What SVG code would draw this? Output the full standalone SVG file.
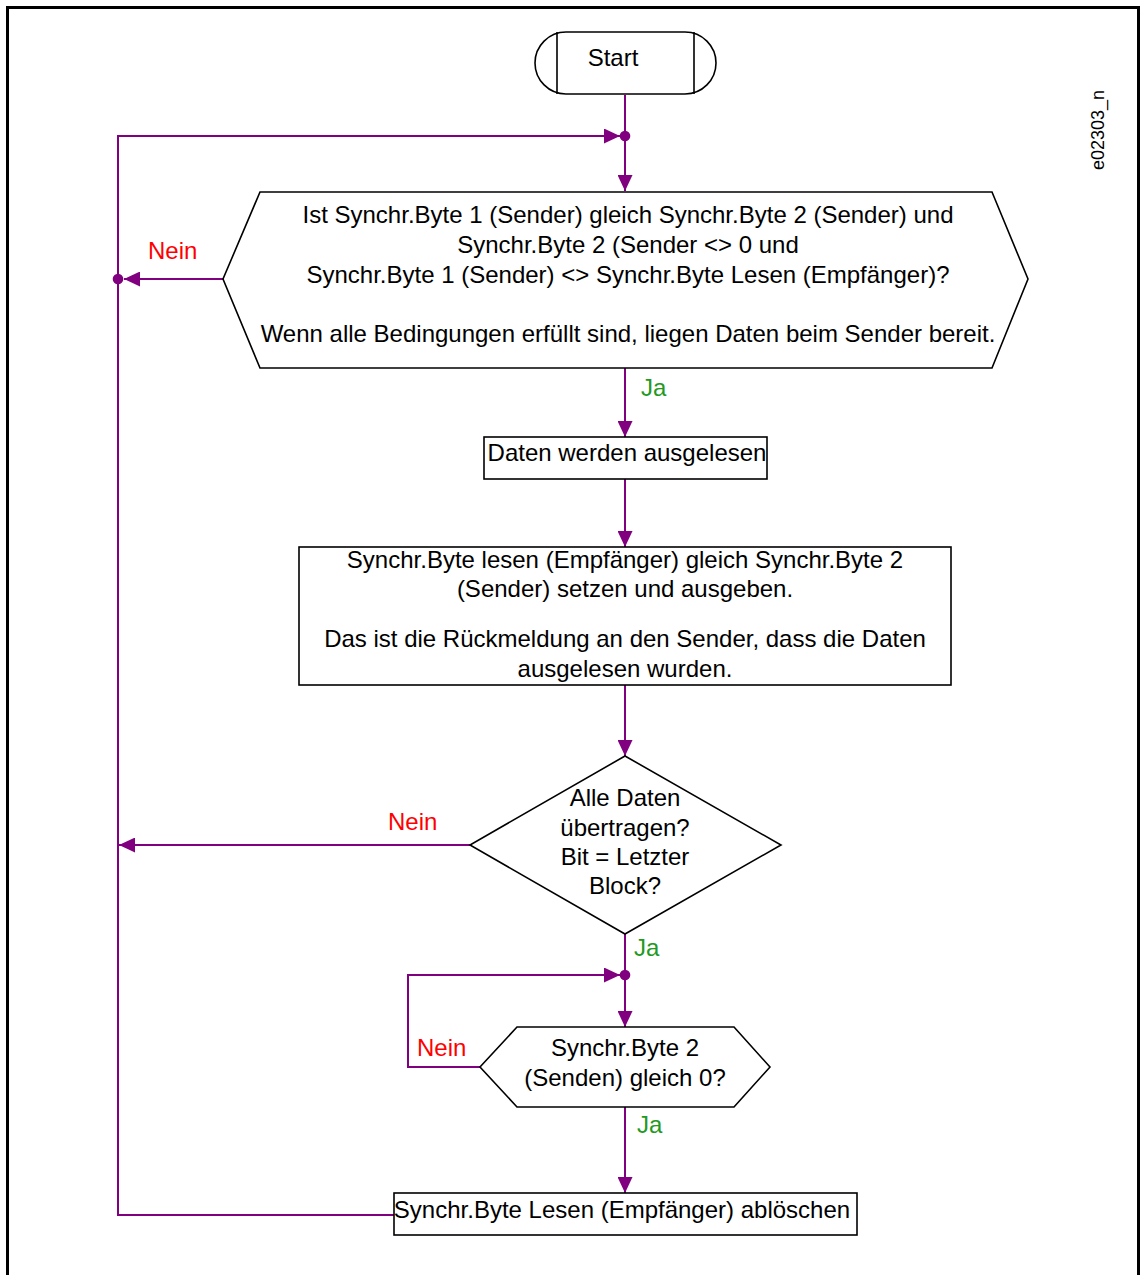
<svg xmlns="http://www.w3.org/2000/svg" width="1140" height="1275" viewBox="0 0 1140 1275">
  <style>
    .node { fill: #ffffff; stroke: #000000; stroke-width: 1.6; }
    .txt { font-family: "Liberation Sans", Arial, sans-serif; font-size: 24px; fill: #000000; text-anchor: middle; }
    .no { font-family: "Liberation Sans", Arial, sans-serif; font-size: 24px; fill: #ff0000; }
    .yes { font-family: "Liberation Sans", Arial, sans-serif; font-size: 24px; fill: #229922; }
    .flow { fill: none; stroke: #800080; stroke-width: 2; }
    .dot { fill: #800080; }
    .tag { font-family: "Liberation Sans", Arial, sans-serif; font-size: 18px; fill: #000000; text-anchor: middle; }
  </style>
  <defs>
    <marker id="arrow" markerUnits="userSpaceOnUse" markerWidth="16" markerHeight="15" refX="16" refY="7.5" orient="auto">
      <path d="M0,0 L16,7.5 L0,15 z" fill="#800080"/>
    </marker>
  </defs>

  <rect width="1140" height="1275" fill="#ffffff"/>
  <!-- frame -->
  <path d="M7.5,1275 V7.5 H1138.5 V1275" fill="none" stroke="#000000" stroke-width="3"/>
  <text class="tag" transform="translate(1104,130) rotate(-90)">e02303_n</text>

  <!-- connectors -->
  <g id="connectors">
    <path class="flow" d="M625,95 V191" marker-end="url(#arrow)"/>
    <path class="flow" d="M394,1215 H118 V136 H620"/>
    <path class="flow" d="M118,136 H620" marker-end="url(#arrow)"/>
    <circle class="dot" cx="625" cy="136" r="5.3"/>
    <path class="flow" d="M223,279 H124" marker-end="url(#arrow)"/>
    <circle class="dot" cx="118" cy="279" r="5.3"/>
    <path class="flow" d="M625,368 V437" marker-end="url(#arrow)"/>
    <path class="flow" d="M625,479 V547" marker-end="url(#arrow)"/>
    <path class="flow" d="M625,685 V756" marker-end="url(#arrow)"/>
    <path class="flow" d="M470,845 H119" marker-end="url(#arrow)"/>
    <path class="flow" d="M625,934 V1027" marker-end="url(#arrow)"/>
    <path class="flow" d="M480,1067 H408 V975 H620" marker-end="url(#arrow)"/>
    <circle class="dot" cx="625" cy="975" r="5.3"/>
    <path class="flow" d="M625,1107 V1193" marker-end="url(#arrow)"/>

    <text class="no" x="148" y="259">Nein</text>
    <text class="yes" x="641" y="396">Ja</text>
    <text class="no" x="388" y="830">Nein</text>
    <text class="yes" x="634" y="956">Ja</text>
    <text class="no" x="417" y="1056">Nein</text>
    <text class="yes" x="637" y="1133">Ja</text>
  </g>

  <!-- start terminator -->
  <g id="start">
    <path class="node" d="M566,32 H685 A31,31 0 0 1 685,94 H566 A31,31 0 0 1 566,32 z"/>
    <path d="M557,32 V94 M694,32 V94" stroke="#000000" stroke-width="1.6"/>
    <text class="txt" x="613" y="66">Start</text>
  </g>

  <!-- check: data ready at sender -->
  <g id="check-ready">
    <polygon class="node" points="260,192 992,192 1028,279 992,368 260,368 223,279"/>
    <text class="txt" x="628" y="223">Ist Synchr.Byte 1 (Sender) gleich Synchr.Byte 2 (Sender) und</text>
    <text class="txt" x="628" y="253">Synchr.Byte 2 (Sender &lt;&gt; 0 und</text>
    <text class="txt" x="628" y="283">Synchr.Byte 1 (Sender) &lt;&gt; Synchr.Byte Lesen (Empfänger)?</text>
    <text class="txt" x="628" y="342">Wenn alle Bedingungen erfüllt sind, liegen Daten beim Sender bereit.</text>
  </g>

  <!-- read data -->
  <g id="read-data">
    <rect class="node" x="484" y="437" width="283" height="42"/>
    <text class="txt" x="627" y="461">Daten werden ausgelesen</text>
  </g>

  <!-- acknowledge -->
  <g id="acknowledge">
    <rect class="node" x="299" y="547" width="652" height="138"/>
    <text class="txt" x="625" y="568">Synchr.Byte lesen (Empfänger) gleich Synchr.Byte 2</text>
    <text class="txt" x="625" y="597">(Sender) setzen und ausgeben.</text>
    <text class="txt" x="625" y="647">Das ist die Rückmeldung an den Sender, dass die Daten</text>
    <text class="txt" x="625" y="677">ausgelesen wurden.</text>
  </g>

  <!-- decision: all data transferred -->
  <g id="all-data">
    <polygon class="node" points="625,756 781,845 625,934 470,845"/>
    <text class="txt" x="625" y="806">Alle Daten</text>
    <text class="txt" x="625" y="836">übertragen?</text>
    <text class="txt" x="625" y="865">Bit = Letzter</text>
    <text class="txt" x="625" y="894">Block?</text>
  </g>

  <!-- wait for sync byte 2 == 0 -->
  <g id="wait-zero">
    <polygon class="node" points="517,1027 734,1027 770,1067 734,1107 517,1107 480,1067"/>
    <text class="txt" x="625" y="1056">Synchr.Byte 2</text>
    <text class="txt" x="625" y="1086">(Senden) gleich 0?</text>
  </g>

  <!-- clear read sync byte -->
  <g id="clear">
    <rect class="node" x="394" y="1193" width="463" height="42"/>
    <text class="txt" x="622" y="1218">Synchr.Byte Lesen (Empfänger) ablöschen</text>
  </g>
</svg>
